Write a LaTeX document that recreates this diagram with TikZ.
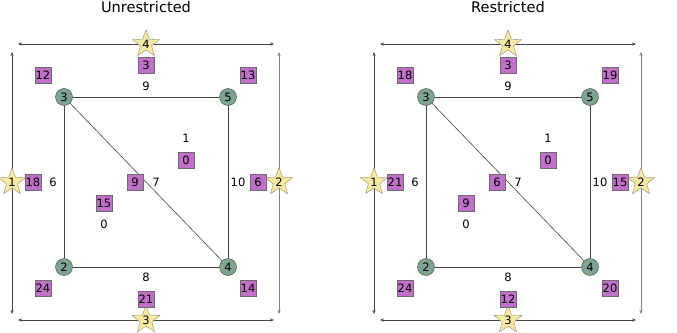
\documentclass[tikz,border=0pt]{standalone}
\usepackage{fontspec}
\setmainfont{DejaVu Sans}
\usepackage{xcolor}
\usepackage{tikz}
\usetikzlibrary{shapes.geometric,arrows.meta}
\definecolor{vertgreen}{RGB}{124, 164, 142}
\definecolor{labelpurple}{RGB}{193, 112, 201}
\definecolor{staryellow}{RGB}{246, 234, 160}
\definecolor{edgegray}{RGB}{70, 70, 70}

\begin{document}
\begin{tikzpicture}[
    x=1pt,
    y=1pt,
    font=\fontsize{11.5}{13}\selectfont,
    >={Stealth[length=4pt,width=3.2pt]},
    vertex/.style={circle, draw=edgegray, fill=vertgreen, minimum size=17pt, inner sep=0pt},
    sqlabel/.style={rectangle, draw=edgegray!80, fill=labelpurple, minimum size=16pt, inner sep=0pt},
    corner/.style={star, star points=5, star point ratio=2.4, draw=gray!80!olive, fill=staryellow, minimum size=21pt, inner sep=0pt},
    txt/.style={inner sep=0pt},
    border/.style={edgegray, line width=0.6pt, <->},
    gedge/.style={edgegray, line width=0.6pt}
]
    % y counted from the top edge
    \useasboundingbox (0,0) rectangle (677,-332);

    % Unrestricted
    \node[txt, font=\fontsize{14.6}{16}\selectfont] (tu) at (146,-7) {Unrestricted};
    \coordinate (ut1) at (18,-44);  \coordinate (ut2) at (274,-44);
    \coordinate (ub1) at (18,-320); \coordinate (ub2) at (274,-320);
    \coordinate (ul1) at (12,-52);  \coordinate (ul2) at (12,-314);
    \coordinate (ur1) at (279,-52); \coordinate (ur2) at (279,-314);
    \draw[border] (ut1) -- (ut2);
    \draw[border] (ub1) -- (ub2);
    \draw[border] (ul1) -- (ul2);
    \draw[border, gray] (ur1) -- (ur2);
    \node[corner] (us4) at (146,-44) {4};
    \node[corner] (us1) at (12,-182) {1};
    \node[corner] (us2) at (279,-182) {2};
    \node[corner] (us3) at (146,-320) {3};

    \node[vertex] (u3) at (64,-97) {3};
    \node[vertex] (u5) at (228,-97) {5};
    \node[vertex] (u2) at (64,-267) {2};
    \node[vertex] (u4) at (228,-267) {4};
    \draw[gedge] (u3) -- (u5);
    \draw[gedge] (u2) -- (u4);
    \draw[gedge] (u3) -- (u2);
    \draw[gedge] (u5) -- (u4);
    \draw[gedge] (u3) -- (u4);

    \node[txt] (ue9) at (146,-86) {9};
    \node[txt] (ue8) at (146,-277) {8};
    \node[txt] (ue6) at (53,-182) {6};
    \node[txt] (ue10) at (238,-182) {10};
    \node[txt] (ue7) at (156,-182) {7};
    \node[txt] (uf1) at (186,-138) {1};
    \node[txt] (uf0) at (104,-224) {0};

    \node[sqlabel] (uq3) at (146,-65) {3};
    \node[sqlabel] (uq12) at (43,-75) {12};
    \node[sqlabel] (uq13) at (248,-75) {13};
    \node[sqlabel] (uq0) at (186,-160) {0};
    \node[sqlabel] (uq9) at (135,-182) {9};
    \node[sqlabel] (uq18) at (33,-182) {18};
    \node[sqlabel] (uq6) at (258,-182) {6};
    \node[sqlabel] (uq15) at (104,-203) {15};
    \node[sqlabel] (uq24) at (43,-288) {24};
    \node[sqlabel] (uq21) at (146,-299) {21};
    \node[sqlabel] (uq14) at (248,-288) {14};

    % Restricted
    \node[txt, font=\fontsize{14.6}{16}\selectfont] (tr) at (508,-7) {Restricted};
    \coordinate (rt1) at (380,-44);  \coordinate (rt2) at (636,-44);
    \coordinate (rb1) at (380,-320); \coordinate (rb2) at (636,-320);
    \coordinate (rl1) at (374,-52);  \coordinate (rl2) at (374,-314);
    \coordinate (rr1) at (641,-52);  \coordinate (rr2) at (641,-314);
    \draw[border] (rt1) -- (rt2);
    \draw[border] (rb1) -- (rb2);
    \draw[border] (rl1) -- (rl2);
    \draw[border, gray] (rr1) -- (rr2);
    \node[corner] (rs4) at (508,-44) {4};
    \node[corner] (rs1) at (374,-182) {1};
    \node[corner] (rs2) at (641,-182) {2};
    \node[corner] (rs3) at (508,-320) {3};

    \node[vertex] (r3) at (426,-97) {3};
    \node[vertex] (r5) at (590,-97) {5};
    \node[vertex] (r2) at (426,-267) {2};
    \node[vertex] (r4) at (590,-267) {4};
    \draw[gedge] (r3) -- (r5);
    \draw[gedge] (r2) -- (r4);
    \draw[gedge] (r3) -- (r2);
    \draw[gedge] (r5) -- (r4);
    \draw[gedge] (r3) -- (r4);

    \node[txt] (re9) at (508,-86) {9};
    \node[txt] (re8) at (508,-277) {8};
    \node[txt] (re6) at (415,-182) {6};
    \node[txt] (re10) at (600,-182) {10};
    \node[txt] (re7) at (518,-182) {7};
    \node[txt] (rf1) at (548,-138) {1};
    \node[txt] (rf0) at (466,-224) {0};

    \node[sqlabel] (rq3) at (508,-65) {3};
    \node[sqlabel] (rq18) at (405,-75) {18};
    \node[sqlabel] (rq19) at (610,-75) {19};
    \node[sqlabel] (rq0) at (548,-160) {0};
    \node[sqlabel] (rq6) at (497,-182) {6};
    \node[sqlabel] (rq21) at (395,-182) {21};
    \node[sqlabel] (rq15) at (620,-182) {15};
    \node[sqlabel] (rq9) at (466,-203) {9};
    \node[sqlabel] (rq24) at (405,-288) {24};
    \node[sqlabel] (rq12) at (508,-299) {12};
    \node[sqlabel] (rq20) at (610,-288) {20};
\end{tikzpicture}
\end{document}
